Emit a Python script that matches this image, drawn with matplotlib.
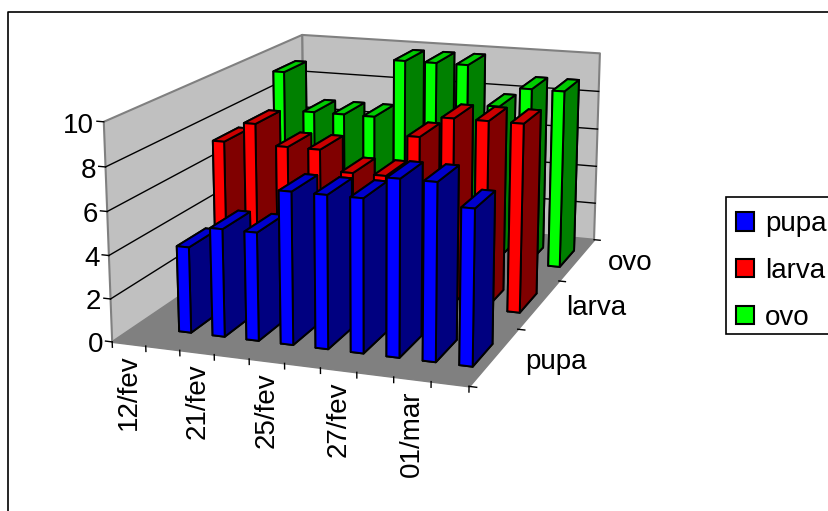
import numpy as np
import matplotlib
matplotlib.use("Agg")
import matplotlib.pyplot as plt
from matplotlib.lines import Line2D
from matplotlib.patches import Patch, Rectangle
from mpl_toolkits.mplot3d import proj3d
from mpl_toolkits.mplot3d.art3d import Poly3DCollection

plt.rcParams["font.family"] = ["Liberation Sans", "DejaVu Sans"]

# data
categories = ["12/fev", "", "21/fev", "", "25/fev", "", "27/fev", "", "01/mar", ""]
series = ["pupa", "larva", "ovo"]
pupa = [0, 4, 5, 5, 7, 7, 7, 8, 8, 7]
larva = [7, 8, 7, 7, 6, 6, 8, 9, 9, 9]
ovo = [9, 7, 7, 7, 10, 10, 10, 8, 9, 9]
y_ticks = [0, 2, 4, 6, 8, 10]

palette = {
    "pupa": ("#0000ff", "#000080", "#0000cc"),
    "larva": ("#ff0000", "#800000", "#cc0000"),
    "ovo": ("#00ff00", "#008000", "#00cc00"),
}

# camera and placement, fitted to the corners of the box in the picture
ELEV, AZIM, FOCAL = 14.607, -70.471, np.exp(-0.5845)
ASPECT = (1.6507, 2.3038, 1)
SCALE, TX, TY = 3288.493, 374.278, 186.832
FONT = 20

W, H = 829, 511
fig = plt.figure(figsize=(W / 100, H / 100), dpi=100)
ax = fig.add_axes([0, 0, 1, 1], projection="3d", computed_zorder=False)
ax.view_init(ELEV, AZIM)
ax.set_box_aspect(ASPECT)
ax.set_proj_type("persp", focal_length=FOCAL)
x0, x1 = ax.viewLim.intervalx
y0, y1 = ax.viewLim.intervaly
ax.set_position([(TX + SCALE * x0) / W, (H - TY + SCALE * y0) / H,
                 SCALE * (x1 - x0) / W, SCALE * (y1 - y0) / H])
ax.set_axis_off()

# walls and floor
walls = [
    [(0, 0, 0), (0, 3, 0), (0, 3, 10), (0, 0, 10)],
    [(0, 3, 0), (10, 3, 0), (10, 3, 10), (0, 3, 10)],
]
ax.add_collection3d(Poly3DCollection(walls, facecolor="#c0c0c0", edgecolor="#808080", linewidth=1.5, zorder=1))
ax.add_collection3d(Poly3DCollection([[(0, 0, 0), (10, 0, 0), (10, 3, 0), (0, 3, 0)]],
                                     facecolor="#808080", edgecolor="#808080", zorder=1))
for z in y_ticks[1:-1]:
    ax.plot([0, 0, 10], [0, 3, 3], [z, z, z], color="k", lw=1, zorder=2)

# bars, back row first so the front rows cover them
order = 3
for row, name, vals in [(2, "ovo", ovo), (1, "larva", larva), (0, "pupa", pupa)]:
    front, side, top = palette[name]
    for i, v in enumerate(vals):
        if v == 0:
            continue
        # faces: -z, +z, -y, +y, -x, +x
        ax.bar3d(i + .32, row + .3, 0, .36, .4, v, color=[front, top, front, side, front, side],
                 shade=False, edgecolor="k", linewidth=1.4, zorder=order)
        order += 1

# tick marks
for z in y_ticks:
    ax.plot([-.2, 0], [0, 0], [z, z], color="k", lw=1, zorder=2)
for i in range(11):
    ax.plot([i, i], [0, 0], [-.25, 0], color="k", lw=1, zorder=2)
for r in range(4):
    ax.plot([10, 10.2], [r, r], [0, 0], color="k", lw=1, zorder=2)

ax.set_xlim(0, 10, view_margin=0)
ax.set_ylim(0, 3, view_margin=0)
ax.set_zlim(0, 10, view_margin=0)

# labels go through the 2d projection, 3d text ignores rotation
M = ax.get_proj()


def label(x, y, z, text, **kw):
    X, Y, _ = proj3d.proj_transform(x, y, z, M)
    ax.annotate(text, xy=(X, Y), xycoords="data", fontsize=FONT, annotation_clip=False, **kw)


for z in y_ticks:
    label(-.28, 0, z - .2, str(z), ha="right", va="center")
for r, name in enumerate(series):
    label(11.65, r + .5, .1, name, ha="center", va="center")
for i, cat in enumerate(categories):
    if cat:
        label(i + .5, 0, -.5, cat, rotation=90, ha="center", va="top")

# legend, its box runs past the right edge of the picture
fig.add_artist(Rectangle((726 / W, 1 - 334 / H), 120 / W, 137 / H, facecolor="w", edgecolor="k", lw=1.2))
handles = [Patch(facecolor=palette[n][0], edgecolor="k", linewidth=1.5, label=n) for n in series]
fig.legend(handles=handles, loc="upper left", bbox_to_anchor=(726 / W, 1 - 201 / H), fontsize=FONT,
           frameon=False, borderaxespad=0, borderpad=.36, labelspacing=.75,
           handlelength=.65, handleheight=.65, handletextpad=.4)

# chart frame, only its top and left sides are inside the picture
fig.add_artist(Line2D([1, 8 / W, 8 / W], [1 - 12.5 / H, 1 - 12.5 / H, 0], color="k", lw=1.2))

fig.savefig("out.png", dpi=100)
